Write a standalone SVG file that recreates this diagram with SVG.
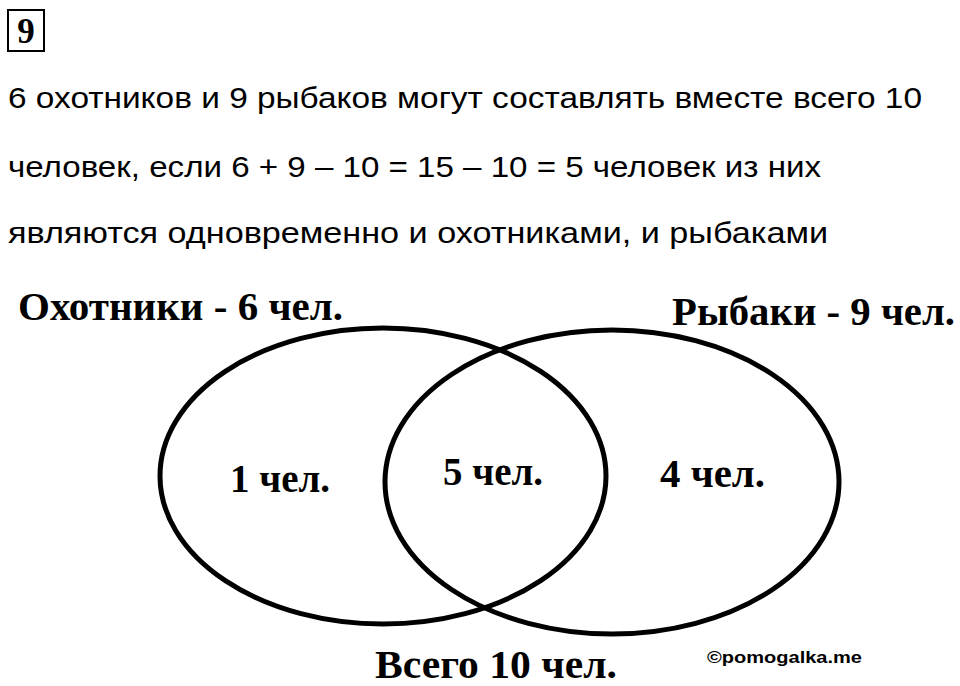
<svg xmlns="http://www.w3.org/2000/svg" width="960" height="686" viewBox="0 0 960 686">
<style>
.p{font-family:"Liberation Sans","Noto Sans",sans-serif;font-size:30px;fill:#000}
.b{font-family:"Liberation Serif","DejaVu Serif",serif;font-weight:bold;font-size:40px;fill:#000}
.e{fill:none;stroke:#000;stroke-width:5}
</style>
<rect width="960" height="686" fill="#fff"/>
<g id="num">
<rect x="8" y="10" width="36" height="41" fill="none" stroke="#000" stroke-width="2"/>
<text x="26" y="43" text-anchor="middle" class="b" style="font-size:35px">9</text>
</g>
<g id="para">
<text class="p" x="8" y="108" textLength="914" lengthAdjust="spacingAndGlyphs">6 охотников и 9 рыбаков могут составлять вместе всего 10</text>
<text class="p" x="8" y="177" textLength="813" lengthAdjust="spacingAndGlyphs">человек, если 6 + 9 – 10 = 15 – 10 = 5 человек из них</text>
<text class="p" x="8" y="243" textLength="820" lengthAdjust="spacingAndGlyphs">являются одновременно и охотниками, и рыбаками</text>
</g>
<g id="hunters">
<ellipse class="e" cx="383" cy="476" rx="223" ry="148"/>
<text class="b" x="18" y="320" textLength="325" lengthAdjust="spacingAndGlyphs">Охотники - 6 чел.</text>
</g>
<g id="fishers">
<ellipse class="e" cx="612" cy="482" rx="227" ry="152"/>
<text class="b" x="672" y="325" textLength="283" lengthAdjust="spacingAndGlyphs">Рыбаки - 9 чел.</text>
</g>
<g id="regions">
<text class="b" x="230" y="492" textLength="100" lengthAdjust="spacingAndGlyphs">1 чел.</text>
<text class="b" x="443" y="485" textLength="100" lengthAdjust="spacingAndGlyphs">5 чел.</text>
<text class="b" x="660" y="487" textLength="105" lengthAdjust="spacingAndGlyphs">4 чел.</text>
</g>
<g id="total">
<text class="b" x="375" y="678" textLength="242" lengthAdjust="spacingAndGlyphs">Всего 10 чел.</text>
</g>
<g id="credit">
<text x="707" y="663" font-family="Liberation Sans,Arial,sans-serif" font-weight="bold" font-size="17" textLength="155" lengthAdjust="spacingAndGlyphs">©pomogalka.me</text>
</g>
</svg>
